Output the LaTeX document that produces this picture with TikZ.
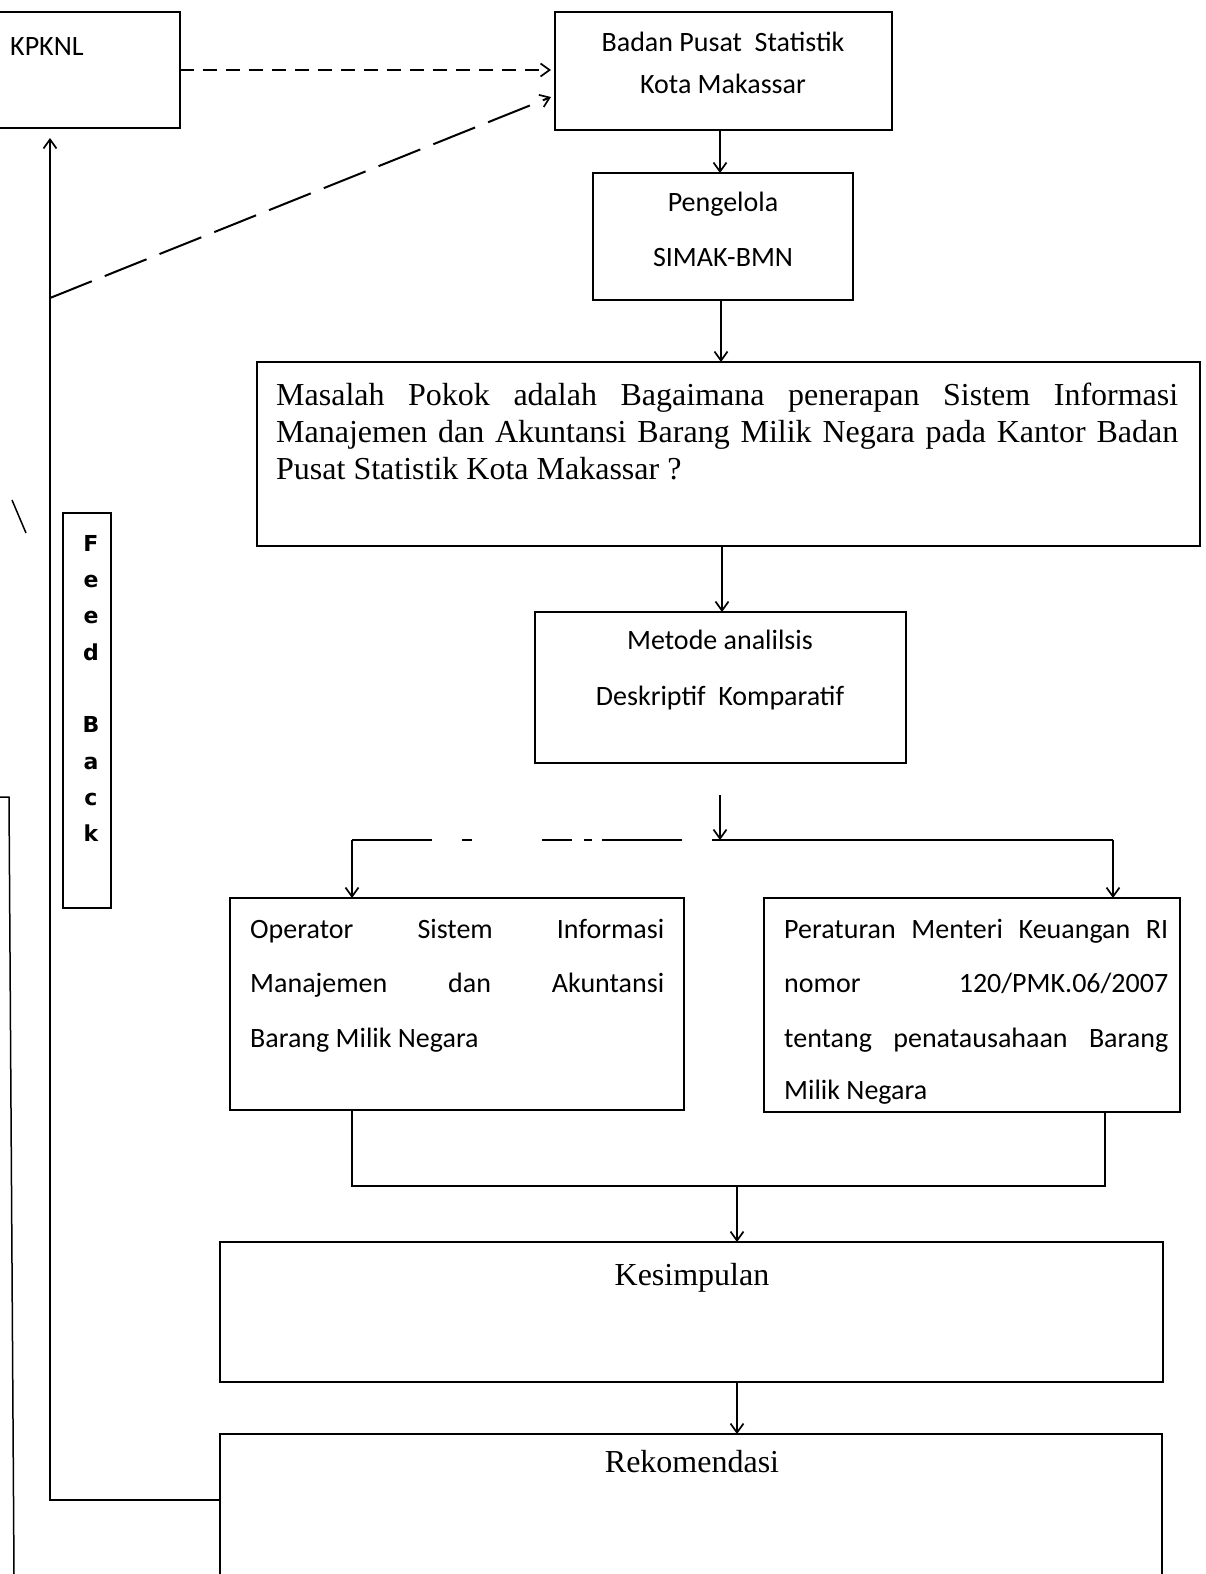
\documentclass[tikz,border=0pt]{standalone}
\usepackage{fontspec}
\setmainfont{Liberation Serif}
\newfontfamily\calib{Carlito}
\newfontfamily\verd{DejaVu Sans}
\usetikzlibrary{arrows.meta,calc}
\begin{document}
\begin{tikzpicture}[x=1pt,y=-1pt,
  box/.style={draw, line width=2.7pt, rectangle, inner sep=0pt, outer sep=0pt, anchor=north west},
  conn/.style={line width=2pt},
  tip/.style={-{Straight Barb[length=9pt,width=13pt,line width=1.7pt]}},
  arr/.style={conn, tip},
  longdash/.style={dash pattern=on 45pt off 14pt},
  shortdash/.style={dash pattern=on 14pt off 9pt},
  sans/.style={font=\calib\fontsize{28}{34}\selectfont, inner sep=0pt},
  serif/.style={font=\fontsize{32}{37}\selectfont, inner sep=0pt},
]
\useasboundingbox (0,0) rectangle (1206,1574);

% boxes
\node[box, minimum width=184pt, minimum height=116pt] (kpknl) at (-4,12) {};
\node[box, minimum width=337pt, minimum height=118pt] (bps) at (555,12) {};
\node[box, minimum width=260pt, minimum height=127pt] (peng) at (593,173) {};
\node[box, minimum width=943pt, minimum height=184pt] (masalah) at (257,362) {};
\node[box, minimum width=371pt, minimum height=151pt] (metode) at (535,612) {};
\node[box, minimum width=454pt, minimum height=212pt] (oper) at (230,898) {};
\node[box, minimum width=416pt, minimum height=214pt] (pera) at (764,898) {};
\node[box, minimum width=943pt, minimum height=140pt] (kesim) at (220,1242) {};
\node[box, minimum width=942pt, minimum height=150pt] (rekom) at (220,1434) {};
\node[box, line width=2.2pt, minimum width=48pt, minimum height=395pt] (fb) at (63,513) {};

% texts
\node[sans, anchor=base west] (tkpknl) at (10,55) {KPKNL};
\node[sans, anchor=base] (tbps1) at (723,51) {Badan Pusat\ \ Statistik};
\node[sans, anchor=base] (tbps2) at (723,93) {Kota Makassar};
\node[sans, anchor=base] (tpeng1) at (723,211) {Pengelola};
\node[sans, anchor=base] (tpeng2) at (723,266) {SIMAK-BMN};
\node[serif, anchor=base west] (tmas1) at (276,405) {\makebox[902pt][s]{Masalah Pokok adalah Bagaimana penerapan Sistem Informasi}};
\node[serif, anchor=base west] (tmas2) at (276,442) {\makebox[902pt][s]{Manajemen dan Akuntansi Barang Milik Negara pada Kantor Badan}};
\node[serif, anchor=base west] (tmas3) at (276,479) {Pusat Statistik Kota Makassar ?};
\node[sans, anchor=base] (tmet1) at (720,649) {Metode analilsis};
\node[sans, anchor=base] (tmet2) at (720,705) {Deskriptif\ \ Komparatif};
\node[sans, anchor=base west] (top1) at (250,938) {\makebox[414pt][s]{Operator Sistem Informasi}};
\node[sans, anchor=base west] (top2) at (250,992) {\makebox[414pt][s]{Manajemen dan Akuntansi}};
\node[sans, anchor=base west] (top3) at (250,1047) {Barang Milik Negara};
\node[sans, anchor=base west] (tper1) at (784,938) {\makebox[384pt][s]{Peraturan Menteri Keuangan RI}};
\node[sans, anchor=base west] (tper2) at (784,992) {\makebox[384pt][s]{nomor 120/PMK.06/2007}};
\node[sans, anchor=base west] (tper3) at (784,1047) {\makebox[384pt][s]{tentang penatausahaan Barang}};
\node[sans, anchor=base west] (tper4) at (784,1099) {Milik Negara};
\node[serif, anchor=base] (tkes) at (692,1285) {Kesimpulan};
\node[serif, anchor=base] (trek) at (692,1472) {Rekomendasi};
\node[font=\verd\bfseries\fontsize{22}{36.3}\selectfont, align=center, anchor=north, inner sep=0pt] (tfb) at (91,535)
  {F\\e\\e\\d\\\mbox{}\\B\\a\\c\\k};

% coordinates
\coordinate (splittop) at (720,795);
\coordinate (split) at (720,840);
\coordinate (splitL) at (352,840);
\coordinate (splitR) at (1113,840);
\coordinate (joinL) at (352,1186);
\coordinate (joinR) at (1105,1186);
\coordinate (joinM) at (737,1186);
\coordinate (fbcorner) at (50,1500);
\coordinate (diagstart) at (50,298);

% main flow
\draw[arr] (bps.south -| 720,0) -- (peng.north -| 720,0);
\draw[arr] (peng.south -| 721,0) -- (masalah.north -| 721,0);
\draw[arr] (masalah.south -| 722,0) -- (metode.north -| 722,0);
\draw[arr] (splittop) -- (split);
\draw[conn] (split) -- (splitR);
\draw[conn, dash pattern=on 80pt off 30pt on 10pt off 70pt on 30pt off 12pt on 8pt off 10pt] (splitL) -- (split);
\draw[arr] (splitL) -- (splitL |- oper.north);
\draw[arr] (splitR) -- (splitR |- pera.north);
\draw[conn] (joinL |- oper.south) -- (joinL) -- (joinR) -- (joinR |- pera.south);
\draw[arr] (joinM) -- (joinM |- kesim.north);
\draw[arr] (kesim.south -| joinM) -- (rekom.north -| joinM);

% feedback
\draw[arr] ([yshift=-66pt]rekom.north west) -- (fbcorner) -- ([yshift=-10pt]fbcorner |- kpknl.south);
\draw[conn, longdash, tip] (diagstart) -- ([yshift=-85pt,xshift=-4pt]bps.north west);
\draw[conn, shortdash, tip] ([yshift=-58pt]kpknl.north east) -- ([yshift=-58pt,xshift=-4pt]bps.north west);

% stray scan strokes
\draw[line width=1.5pt] (0,797) -- (9,797) -- (14,1574);
\draw[line width=1.5pt] (12,500) -- (26,533);
\end{tikzpicture}
\end{document}
